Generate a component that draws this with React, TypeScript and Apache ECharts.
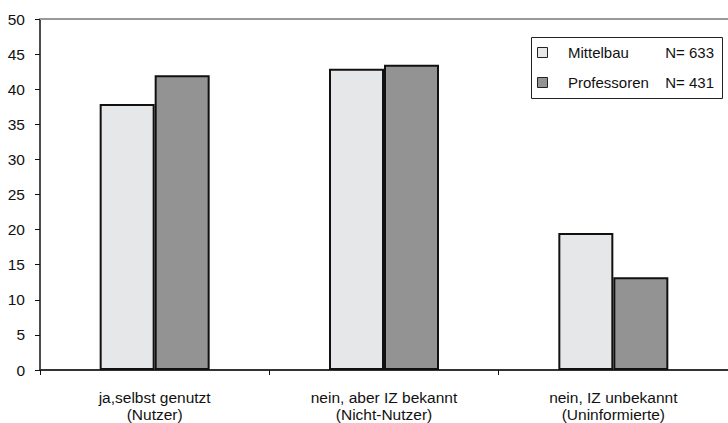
import React, { useEffect, useRef } from "react";
import * as echarts from "echarts";

const categories = [
  "ja,selbst genutzt\n(Nutzer)",
  "nein, aber IZ bekannt\n(Nicht-Nutzer)",
  "nein, IZ unbekannt\n(Uninformierte)",
];
const mittelbau = [37.9, 42.9, 19.5];
const professoren = [42.0, 43.5, 13.2];
const legendNames = ["Mittelbau", "Professoren"];
const legendN = ["N= 633", "N= 431"];

const FONT = "Liberation Sans, Arial, sans-serif";

export default function App() {
  const ref = useRef<HTMLDivElement>(null);
  useEffect(() => {
    if (!ref.current) return;
    const chart = echarts.init(ref.current, null, { renderer: "svg" });
    chart.setOption({
      animation: false,
      backgroundColor: "#fff",
      textStyle: { fontFamily: FONT },
      grid: { left: 40, top: 19, width: 693, height: 352, containLabel: false },
      xAxis: [
        {
          type: "category",
          data: categories,
          position: "bottom",
          axisLine: { lineStyle: { color: "#333", width: 2 } },
          axisTick: { show: true, length: 5, lineStyle: { color: "#111", width: 1 } },
          axisLabel: {
            color: "#111",
            fontSize: 15.5,
            fontFamily: FONT,
            margin: 19,
            lineHeight: 17,
            interval: 0,
          },
        },
        {
          type: "category",
          data: categories,
          position: "top",
          axisLine: { lineStyle: { color: "#999", width: 2 } },
          axisTick: { show: false },
          axisLabel: { show: false },
        },
      ],
      yAxis: {
        type: "value",
        min: 0,
        max: 50,
        interval: 5,
        axisLine: { show: true, lineStyle: { color: "#111", width: 1.5 } },
        axisTick: { show: true, length: 5, lineStyle: { color: "#111" } },
        splitLine: { show: false },
        axisLabel: { color: "#111", fontSize: 15.5, fontFamily: FONT, margin: 15 },
      },
      series: [
        {
          name: legendNames[0],
          type: "bar",
          data: mittelbau,
          barWidth: 55,
          barGap: "0%",
          itemStyle: { color: "#e6e7e9", borderColor: "#111", borderWidth: 2 },
        },
        {
          name: legendNames[1],
          type: "bar",
          data: professoren,
          barWidth: 55,
          barGap: "0%",
          itemStyle: { color: "#939393", borderColor: "#111", borderWidth: 2 },
        },
      ],
      graphic: [
        {
          type: "rect",
          shape: { x: 531.5, y: 37.5, width: 191, height: 61 },
          style: { fill: "#fff", stroke: "#222", lineWidth: 1 },
          z: 10,
        },
        {
          type: "rect",
          shape: { x: 537.5, y: 47.5, width: 10, height: 10 },
          style: { fill: "#e6e7e9", stroke: "#222", lineWidth: 1 },
          z: 11,
        },
        {
          type: "rect",
          shape: { x: 537.5, y: 77.5, width: 10, height: 10 },
          style: { fill: "#939393", stroke: "#222", lineWidth: 1 },
          z: 11,
        },
        {
          type: "text",
          x: 568,
          y: 52.5,
          style: { text: legendNames[0], font: `15px ${FONT}`, fill: "#111", verticalAlign: "middle" },
          z: 11,
        },
        {
          type: "text",
          x: 568,
          y: 82.5,
          style: { text: legendNames[1], font: `15px ${FONT}`, fill: "#111", verticalAlign: "middle" },
          z: 11,
        },
        {
          type: "text",
          x: 714,
          y: 52.5,
          style: { text: legendN[0], font: `15px ${FONT}`, fill: "#111", verticalAlign: "middle", align: "right" },
          z: 11,
        },
        {
          type: "text",
          x: 714,
          y: 82.5,
          style: { text: legendN[1], font: `15px ${FONT}`, fill: "#111", verticalAlign: "middle", align: "right" },
          z: 11,
        },
      ],
    });
    return () => chart.dispose();
  }, []);
  return <div ref={ref} style={{ width: 728, height: 423, position: "absolute", left: 0, top: 0 }} />;
}
